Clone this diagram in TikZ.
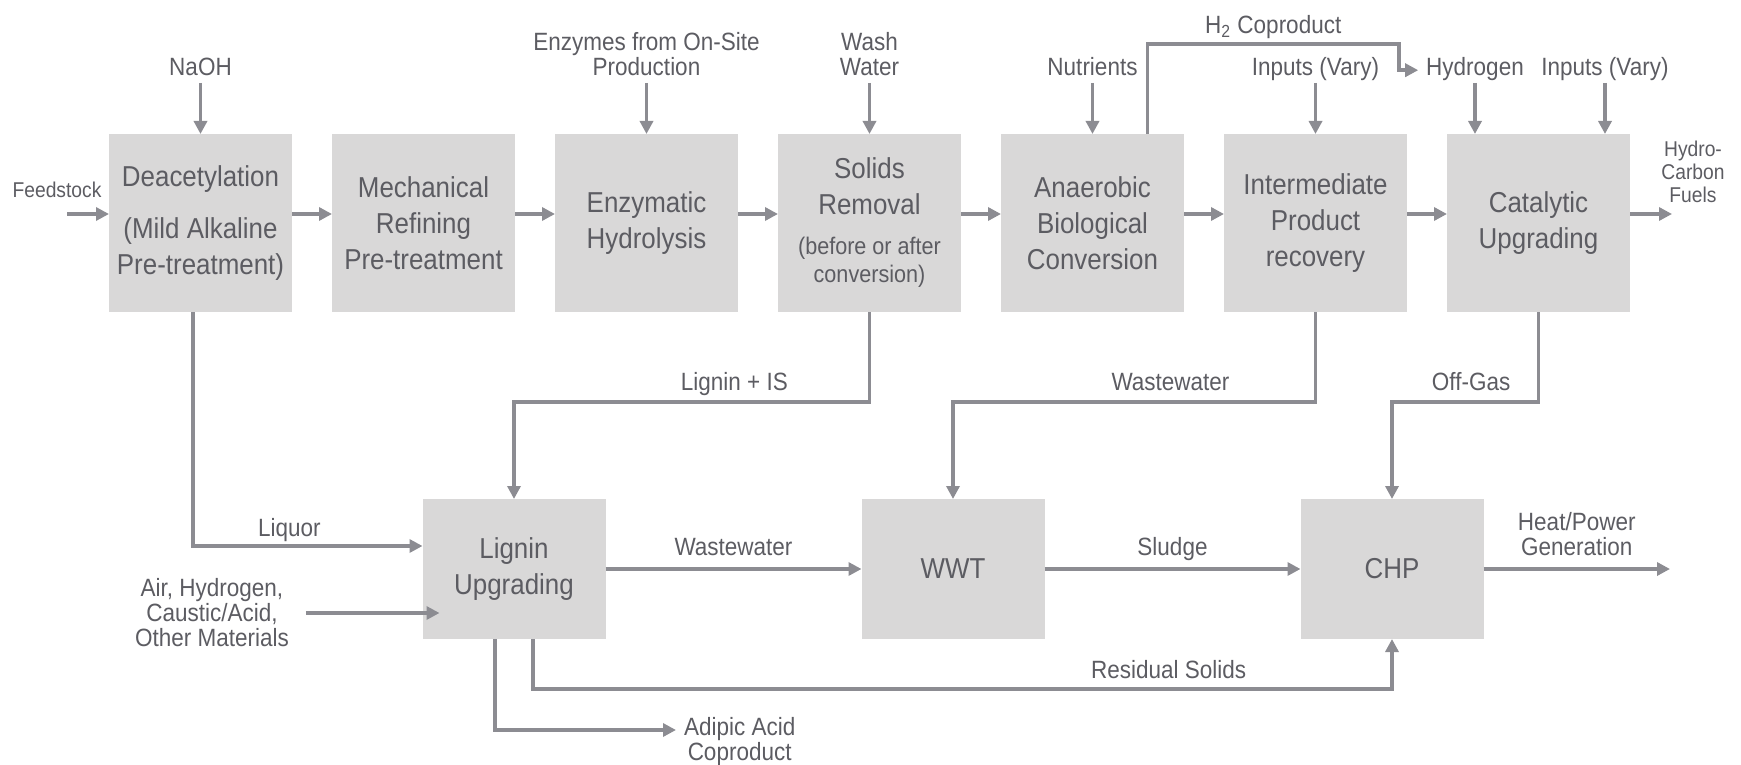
\documentclass[tikz,border=0pt]{standalone}
\usepackage{fontspec}
\setmainfont{Liberation Sans}[FakeStretch=0.9]
\usetikzlibrary{positioning,arrows.meta}
\definecolor{boxgray}{RGB}{217,216,216}
\definecolor{linegray}{RGB}{140,140,146}
\definecolor{textgray}{RGB}{92,92,98}
\newcommand{\smallpart}{\fontsize{12}{14}\selectfont}
\tikzset{
  unit/.style={fill=boxgray, text=textgray, minimum width=91.5pt, minimum height=89pt,
    align=center, inner sep=2pt, outer sep=0pt, font=\fontsize{14.4}{18}\selectfont},
  lowunit/.style={unit, minimum height=70pt},
  lbl/.style={text=textgray, align=center, inner sep=0pt, outer sep=0pt,
    font=\fontsize{12.5}{12.5}\selectfont},
  smalllbl/.style={lbl, font=\fontsize{10.7}{11.5}\selectfont},
  flow/.style={draw=linegray, line width=1.9pt, -{Triangle[length=6.5pt,width=6.5pt]}},
}
\begin{document}
\begin{tikzpicture}[x=0.5pt,y=-0.5pt,node distance=20pt]
                \useasboundingbox (0,0) rectangle (1741,765);

                \node[unit] (deacet) at (200.5,223) {Deacetylation\\[8pt](Mild Alkaline\\Pre-treatment)};
                \node[unit] (mech) [right=of deacet] {Mechanical\\Refining\\Pre-treatment};
                \node[unit] (enzhyd) [right=of mech] {Enzymatic\\Hydrolysis};
                \node[unit] (solids) [right=of enzhyd] {Solids\\Removal\\[2pt]{\smallpart(before or after}\\[-4pt]{\smallpart conversion)}};
                \node[unit] (anaer) [right=of solids] {Anaerobic\\Biological\\Conversion};
                \node[unit] (interm) [right=of anaer] {Intermediate\\Product\\recovery};
                \node[unit] (catal) [right=of interm] {Catalytic\\Upgrading};

                \node[lowunit] (lignin) at (514,569) {Lignin\\Upgrading};
                \node[lowunit] (wwt) [right=128pt of lignin] {WWT};
                \node[lowunit] (chp) [right=128pt of wwt] {CHP};

                \node[lbl] (naoh) [above=25.5pt of deacet] {NaOH\strut};
                \node[lbl] (enzymes) [above=25.5pt of enzhyd] {Enzymes from On-Site\\Production\strut};
                \node[lbl] (wash) [above=25.5pt of solids] {Wash\\Water\strut};
                \node[lbl] (nutr) [above=25.5pt of anaer] {Nutrients\strut};
                \node[lbl] (inputsA) [above=25.5pt of interm] {Inputs (Vary)\strut};
                \node[lbl] (hydro) [above=25.5pt of catal, xshift=-31.75pt] {Hydrogen\strut};
                \node[lbl] (inputsB) [above=25.5pt of catal, xshift=33.25pt] {Inputs (Vary)\strut};
                \node[smalllbl] (feed) at (57,190) {Feedstock};
                \node[smalllbl] (fuels) at (1693,172) {Hydro-\\Carbon\\Fuels};
                \node[lbl] (air) at (212,613) {Air, Hydrogen,\\Caustic/Acid,\\Other Materials};
                \node[lbl, anchor=west] (adipic) at (684,742) {Adipic Acid\\Coproduct};

                \coordinate (feedin) at (67,214);
                \coordinate (fuelout) at (1672,214);
                \coordinate (h2turn) at (1399,44);
                \coordinate (powerout) at (1670,569);

                \foreach \a/\b in {deacet/mech, mech/enzhyd, enzhyd/solids, solids/anaer, anaer/interm, interm/catal}
                  \draw[flow] ([yshift=4.5pt]\a.east) -- ([yshift=4.5pt]\b.west);
                \foreach \l/\b in {naoh/deacet, enzymes/enzhyd, wash/solids, nutr/anaer, inputsA/interm}
                  \draw[flow] (\l) -- (\b);
                \draw[flow] (hydro.south) -- (hydro.south |- catal.north);
                \draw[flow] (inputsB.south) -- (inputsB.south |- catal.north);
                \draw[flow] (feedin) -- (feedin -| deacet.west);
                \draw[flow] ([yshift=4.5pt]catal.east) -- (fuelout);
                \draw[flow] ([xshift=27.5pt]anaer.north) |- node[lbl, pos=0.75, above=2.5pt] {H\textsubscript{2} Coproduct} (h2turn) |- ([xshift=-4pt]hydro.west);

                \draw[flow] ([xshift=-3.75pt]deacet.south) |- node[lbl, pos=0.71, above=1pt] {Liquor\strut} ([yshift=11.5pt]lignin.west);
                \draw[flow] ([xshift=8.5pt]air.east) -- ([xshift=8.5pt]air.east -| lignin.west);
                \draw[flow] (solids.south) -- ++(0,90) -| node[lbl, pos=0.19, above=1.8pt] {Lignin + IS\strut} (lignin.north);
                \draw[flow] (interm.south) -- ++(0,90) -| node[lbl, pos=0.2, above=1.8pt] {Wastewater\strut} (wwt.north);
                \draw[flow] (catal.south) -- ++(0,90) -| node[lbl, pos=0.23, above=1.8pt] {Off-Gas\strut} (chp.north);
                \draw[flow] (lignin) -- node[lbl, above=3pt] {Wastewater\strut} (wwt);
                \draw[flow] (wwt) -- node[lbl, above=3pt] {Sludge\strut} (chp);
                \draw[flow] (chp) -- node[lbl, above=3pt] {Heat/Power\\Generation\strut} (powerout);
                \draw[flow] ([xshift=9.5pt]lignin.south) -- ++(0,50) -| node[lbl, pos=0.37, above=1.4pt] {Residual Solids\strut} (chp.south);
                \draw[flow] ([xshift=-9.5pt]lignin.south) |- ([xshift=-4pt,yshift=6pt]adipic.west);
			\end{tikzpicture}
\end{document}
